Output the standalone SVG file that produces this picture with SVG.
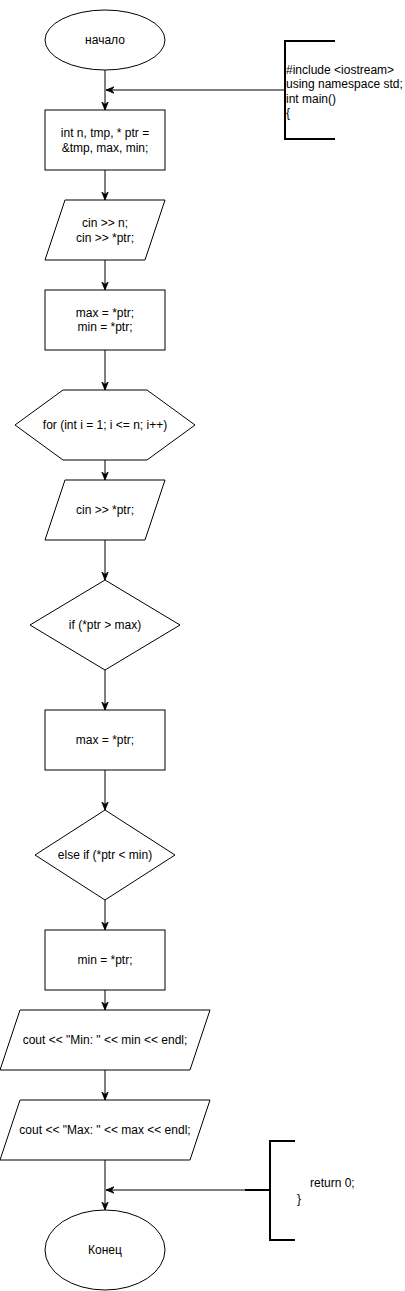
<svg xmlns="http://www.w3.org/2000/svg" width="405" height="1291" viewBox="0 0 405 1291">
<style>
.s{fill:#fff;stroke:#000;stroke-width:1}
.t{font-family:"Liberation Sans",Arial,sans-serif;font-size:12px;fill:#000;text-anchor:middle}
.l{font-family:"Liberation Sans",Arial,sans-serif;font-size:12px;fill:#000;text-anchor:start}
.c{fill:none;stroke:#000;stroke-width:1}
.b{fill:none;stroke:#000;stroke-width:2}
</style>
<defs>
<marker id="arr" viewBox="0 0 10 10" refX="10" refY="5" markerWidth="8" markerHeight="8" markerUnits="userSpaceOnUse" orient="auto">
<path d="M0,1 L10,5 L0,9 L3,5 z" fill="#000" stroke="#000" stroke-width="1"/>
</marker>
</defs>
<g id="connectors">
<line class="c" x1="105" y1="70" x2="105" y2="110" marker-end="url(#arr)"/>
<line class="c" x1="285" y1="90" x2="106" y2="90" marker-end="url(#arr)"/>
<line class="c" x1="105" y1="170" x2="105" y2="200" marker-end="url(#arr)"/>
<line class="c" x1="105" y1="260" x2="105" y2="290" marker-end="url(#arr)"/>
<line class="c" x1="105" y1="350" x2="105" y2="390" marker-end="url(#arr)"/>
<line class="c" x1="105" y1="460" x2="105" y2="480" marker-end="url(#arr)"/>
<line class="c" x1="105" y1="540" x2="105" y2="580" marker-end="url(#arr)"/>
<line class="c" x1="105" y1="670" x2="105" y2="710" marker-end="url(#arr)"/>
<line class="c" x1="105" y1="770" x2="105" y2="810" marker-end="url(#arr)"/>
<line class="c" x1="105" y1="900" x2="105" y2="930" marker-end="url(#arr)"/>
<line class="c" x1="105" y1="990" x2="105" y2="1010" marker-end="url(#arr)"/>
<line class="c" x1="105" y1="1070" x2="105" y2="1100" marker-end="url(#arr)"/>
<line class="c" x1="105" y1="1160" x2="105" y2="1210" marker-end="url(#arr)"/>
<line class="c" x1="245" y1="1190" x2="106" y2="1190" marker-end="url(#arr)"/>
</g>
<g id="start">
<ellipse class="s" cx="105" cy="40" rx="60" ry="30"/>
<text class="t" x="105" y="44">начало</text>
</g>
<g id="note-top">
<path class="b" d="M335,41 H285 V139 H335"/>
<text class="l" x="286" y="74">#include &lt;iostream&gt;</text>
<text class="l" x="286" y="88">using namespace std;</text>
<text class="l" x="286" y="103">int main()</text>
<text class="l" x="286" y="117">{</text>
</g>
<g id="decl">
<rect class="s" x="45" y="110" width="120" height="60"/>
<text class="t" x="105" y="137">int n, tmp, * ptr =</text>
<text class="t" x="105" y="152">&amp;tmp, max, min;</text>
</g>
<g id="input1">
<polygon class="s" points="65,200 165,200 145,260 45,260"/>
<text class="t" x="105" y="227">cin &gt;&gt; n;</text>
<text class="t" x="105" y="242">cin &gt;&gt; *ptr;</text>
</g>
<g id="init">
<rect class="s" x="45" y="290" width="120" height="60"/>
<text class="t" x="105" y="317">max = *ptr;</text>
<text class="t" x="105" y="331">min = *ptr;</text>
</g>
<g id="loop">
<polygon class="s" points="63,390 147,390 195,425 147,460 63,460 15,425"/>
<text class="t" x="105" y="429">for (int i = 1; i &lt;= n; i++)</text>
</g>
<g id="input2">
<polygon class="s" points="65,480 165,480 145,540 45,540"/>
<text class="t" x="105" y="514">cin &gt;&gt; *ptr;</text>
</g>
<g id="if-max">
<polygon class="s" points="105,580 180,625 105,670 30,625"/>
<text class="t" x="105" y="629">if (*ptr &gt; max)</text>
</g>
<g id="set-max">
<rect class="s" x="45" y="710" width="120" height="60"/>
<text class="t" x="105" y="744">max = *ptr;</text>
</g>
<g id="if-min">
<polygon class="s" points="105,810 175,855 105,900 35,855"/>
<text class="t" x="105" y="859">else if (*ptr &lt; min)</text>
</g>
<g id="set-min">
<rect class="s" x="45" y="930" width="120" height="60"/>
<text class="t" x="105" y="964">min = *ptr;</text>
</g>
<g id="out-min">
<polygon class="s" points="20,1010 210,1010 190,1070 0,1070"/>
<text class="t" x="105" y="1044">cout &lt;&lt; "Min: " &lt;&lt; min &lt;&lt; endl;</text>
</g>
<g id="out-max">
<polygon class="s" points="20,1100 210,1100 190,1160 0,1160"/>
<text class="t" x="105" y="1134">cout &lt;&lt; "Max: " &lt;&lt; max &lt;&lt; endl;</text>
</g>
<g id="note-bottom">
<path class="b" d="M295,1141 H270 V1240 H295 M245,1190 H270"/>
<text class="l" x="310" y="1187">return 0;</text>
<text class="l" x="297" y="1203">}</text>
</g>
<g id="end">
<ellipse class="s" cx="105" cy="1250" rx="60" ry="40"/>
<text class="t" x="105" y="1254">Конец</text>
</g>
</svg>
